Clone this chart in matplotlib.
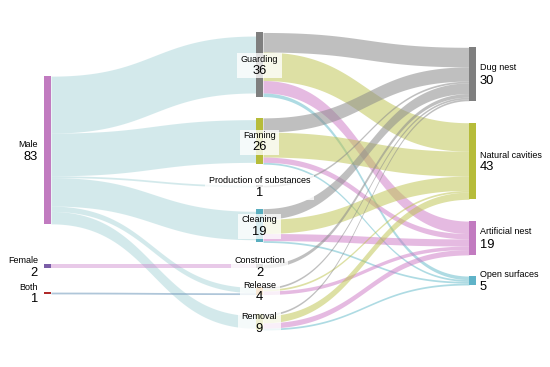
import numpy as np
import matplotlib
matplotlib.use("Agg")
import matplotlib.pyplot as plt
from matplotlib.patches import Rectangle
from matplotlib.transforms import Bbox

plt.rcParams['font.family'] = ['Liberation Sans', 'DejaVu Sans']

# ---- data ----
sexes = ['Male', 'Female', 'Both']
sex_vals = [83, 2, 1]
behaviours = ['Guarding', 'Fanning', 'Production of substances', 'Cleaning',
              'Construction', 'Release', 'Removal']
beh_vals = [36, 26, 1, 19, 2, 4, 9]
nests = ['Dug nest', 'Natural cavities', 'Artificial nest', 'Open surfaces']
nest_vals = [30, 43, 19, 5]

# sex -> behaviour
male_links = [32, 24, 1, 16, 0, 3, 7]
female_links = [0, 0, 0, 0, 2, 0, 0]
both_links = [0, 0, 0, 0, 0, 1, 0]
# behaviour -> nest (dug, natural, artificial, open)
guarding_links = [11, 16, 7, 2]
fanning_links = [8, 14, 3, 1]
production_links = [1, 0, 0, 0]
cleaning_links = [6, 8, 4, 1]
construction_links = [2, 0, 0, 0]
release_links = [1, 1, 2, 0]
removal_links = [1, 4, 3, 1]

# ---- layout ----
K = 1.78          # px per unit
NW = 7            # node width
col_x = [44, 256, 469]
sex_cy = [150, 266, 293]
beh_cy = [64.5, 141, 186, 225.5, 266, 291, 322]
nest_cy = [74, 161, 238, 280.5]

sex_col = ['#c17bc0', '#7b5ea7', '#b02a2a']
beh_col = ['#7f7f7f', '#b6bc3a', '#7f7f7f', '#5aaebf', '#7f7f7f', '#e3a04c', '#b6bc3a']
nest_col = ['#7f7f7f', '#b6bc3a', '#c27bc0', '#5fb3c8']
sex_link_col = [('#a9d5d9', 0.5), ('#cc88cc', 0.45), ('#7aa0c0', 0.6)]
nest_link_col = [('#8c8c8c', 0.55), ('#bcc24a', 0.5), ('#cc77c4', 0.5), ('#5fb8c8', 0.5)]

fig = plt.figure(figsize=(5.5, 3.67), dpi=100)
ax = fig.add_axes([0, 0, 1, 1])
ax.set_xlim(0, 550)
ax.set_ylim(367, 0)
ax.axis('off')


def band(x0, y0, x1, y1, h, color, alpha):
    t = np.linspace(0, 1, 80)
    cx0 = x0 + (x1 - x0) * 0.5
    cx1 = x1 - (x1 - x0) * 0.5
    x = (1-t)**3*x0 + 3*(1-t)**2*t*cx0 + 3*(1-t)*t**2*cx1 + t**3*x1
    y = (1-t)**3*y0 + 3*(1-t)**2*t*y0 + 3*(1-t)*t**2*y1 + t**3*y1
    ax.fill_between(x, y, y + h, color=color, alpha=alpha, lw=0, zorder=1)


def tops(cy, vals):
    return [c - v * K / 2 for c, v in zip(cy, vals)]


sex_top = tops(sex_cy, sex_vals)
beh_top = tops(beh_cy, beh_vals)
nest_top = tops(nest_cy, nest_vals)

# sex -> behaviour links
m1 = [male_links, female_links, both_links]
beh_in = [sum(m1[i][j] for i in range(3)) for j in range(len(behaviours))]
in_off = [beh_top[j] + (beh_vals[j] - beh_in[j]) * K / 2 for j in range(len(behaviours))]
for i in range(3):
    off = sex_top[i]
    for j, v in enumerate(m1[i]):
        if v == 0:
            continue
        c, a = sex_link_col[i]
        band(col_x[0] + NW, off, col_x[1], in_off[j], v * K, c, a)
        off += v * K
        in_off[j] += v * K

# behaviour -> nest links
m2 = [guarding_links, fanning_links, production_links, cleaning_links,
      construction_links, release_links, removal_links]
n_off = list(nest_top)
for i in range(len(behaviours)):
    off = beh_top[i]
    for j, v in enumerate(m2[i]):
        if v == 0:
            continue
        c, a = nest_link_col[j]
        band(col_x[1] + NW, off, col_x[2], n_off[j], v * K, c, a)
        off += v * K
        n_off[j] += v * K

# nodes
for col, top, vals, cols in [(0, sex_top, sex_vals, sex_col),
                             (1, beh_top, beh_vals, beh_col),
                             (2, nest_top, nest_vals, nest_col)]:
    for t, v, c in zip(top, vals, cols):
        ax.add_patch(Rectangle((col_x[col], t), NW, v * K, color=c, lw=0, zorder=2))

NAME_FS = 6.5
VAL_FS = 9.3

for name, v, cy in zip(sexes, sex_vals, sex_cy):
    ax.text(38, cy - 5.5, name, ha='right', va='center', fontsize=NAME_FS, zorder=4)
    ax.text(38, cy + 6.5, str(v), ha='right', va='center', fontsize=VAL_FS, zorder=4)

for name, v, cy in zip(nests, nest_vals, nest_cy):
    ax.text(480, cy - 6, name, ha='left', va='center', fontsize=NAME_FS, zorder=4)
    ax.text(480, cy + 6.5, str(v), ha='left', va='center', fontsize=VAL_FS, zorder=4)

mid_texts = []
for name, v, cy in zip(behaviours, beh_vals, beh_cy):
    xc = col_x[1] + NW / 2
    t1 = ax.text(xc, cy - 5.5, name, ha='center', va='center', fontsize=NAME_FS, zorder=4)
    t2 = ax.text(xc, cy + 6.5, str(v), ha='center', va='center', fontsize=VAL_FS, zorder=4)
    mid_texts.append((t1, t2))

fig.canvas.draw()
r = fig.canvas.get_renderer()
inv = ax.transData.inverted()
for t1, t2 in mid_texts:
    bb = Bbox.union([t1.get_window_extent(r), t2.get_window_extent(r)])
    (ax0, ay0), (ax1, ay1) = inv.transform([[bb.x0, bb.y0], [bb.x1, bb.y1]])
    xa, xb = min(ax0, ax1) - 3.5, max(ax0, ax1) + 3.5
    ya, yb = min(ay0, ay1) - 1.5, max(ay0, ay1) + 1
    ax.add_patch(Rectangle((xa, ya), xb - xa, yb - ya, facecolor='white',
                           alpha=0.78, lw=0, zorder=3))

fig.savefig('out.png', dpi=100)
